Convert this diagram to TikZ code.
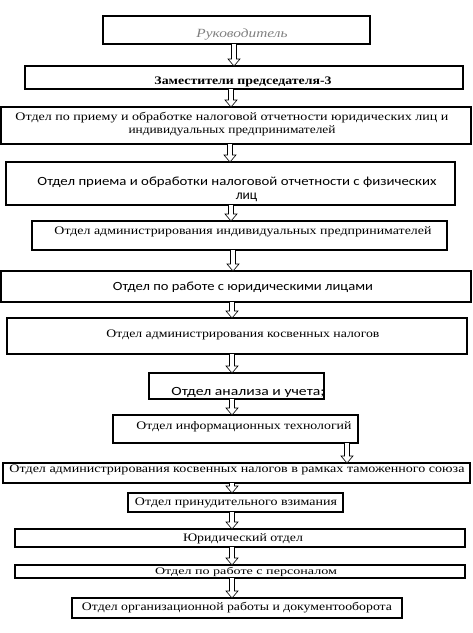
\documentclass[tikz,border=0pt]{standalone}
\usepackage{fontspec}
\setmainfont{Liberation Serif}
\newfontfamily\calib{Carlito}
\usepackage{graphicx}
\usetikzlibrary{calc}
\tikzset{
  box/.style={draw=black, line width=1.1pt, inner sep=0pt, outer sep=0pt, fill=none},
  txt/.style={inner sep=0pt, outer sep=0pt, font=\fontsize{11.5}{13}\selectfont},
  ctxt/.style={inner sep=0pt, outer sep=0pt, font=\calib\fontsize{12.5}{14}\selectfont},
  blk/.style={draw=black, line width=0.6pt, fill=white, line join=miter}
}
\newcommand\fw[2]{\resizebox{#1pt}{\height}{#2}}
\newcommand\barrow[3]{%
  \draw[blk] let \p1=(#1.south), \p2=(#2.north) in
    ({#3pt-2.5pt},\y1) -- ({#3pt-2.5pt},\y2+7pt) -- ({#3pt-6pt},\y2+7pt)
    -- (#3pt,\y2) -- ({#3pt+6pt},\y2+7pt) -- ({#3pt+2.5pt},\y2+7pt)
    -- ({#3pt+2.5pt},\y1);}
\begin{document}
\begin{tikzpicture}[x=1pt,y=-1pt]
\useasboundingbox (0,0) rectangle (473,633);
% boxes
\node[box, minimum width=267pt, minimum height=28pt] (b1) at (236.5,30) {};
\node[box, minimum width=438pt, minimum height=23pt] (b2) at (244,77.5) {};
\node[box, minimum width=470pt, minimum height=37pt] (b3) at (236,125.5) {};
\node[box, minimum width=449pt, minimum height=43pt, line width=1.5pt] (b4) at (230.5,183.5) {};
\node[box, minimum width=415pt, minimum height=29pt] (b5) at (239.5,235.5) {};
\node[box, minimum width=470pt, minimum height=31pt] (b6) at (236,286.5) {};
\node[box, minimum width=460pt, minimum height=36pt] (b7) at (237,336) {};
\node[box, minimum width=175pt, minimum height=26pt] (b8) at (236.5,386) {};
\node[box, minimum width=245pt, minimum height=28pt] (b9) at (235.5,429) {};
\node[box, minimum width=467pt, minimum height=20pt] (b10) at (236.5,473) {};
\node[box, minimum width=215pt, minimum height=19pt] (b11) at (235.5,502.5) {};
\node[box, minimum width=450pt, minimum height=18pt] (b12) at (240,538) {};
\node[box, minimum width=450pt, minimum height=13pt] (b13) at (240,571.5) {};
\node[box, minimum width=330pt, minimum height=20pt] (b14) at (237,608) {};
% texts
\node[txt, text=black!50, font=\fontsize{12.5}{14}\selectfont] (t1) at (242,35) {\fw{91}{\itshape Руководитель}};
\node[txt] (t2) at (243,82) {\fw{177}{\bfseries Заместители председателя-3}};
\node[txt] (t3a) at (232,118) {\fw{433}{Отдел по приему и обработке налоговой отчетности юридических лиц и}};
\node[txt] (t3b) at (232,131) {\fw{207}{индивидуальных предпринимателей}};
\node[ctxt] (t4a) at (237,182) {\fw{399}{Отдел приема и обработки налоговой отчетности с физических}};
\node[ctxt, font=\calib\fontsize{13.5}{15}\selectfont] (t4b) at (246.5,197.5) {лиц};
\node[txt] (t5) at (243,232) {\fw{377}{Отдел администрирования индивидуальных предпринимателей}};
\node[ctxt] (t6) at (243,287) {\fw{260}{Отдел по работе с юридическими лицами}};
\node[txt] (t7) at (243,335) {\fw{273}{Отдел администрирования косвенных налогов}};
\node[ctxt] (t8) at (248,392) {\fw{153}{Отдел анализа и учета;}};
\node[txt] (t9) at (244,427) {\fw{215}{Отдел информационных технологий}};
\node[txt] (t10) at (237,470) {\fw{455}{Отдел администрирования косвенных налогов в рамках таможенного союза}};
\node[txt] (t11) at (236,503) {\fw{202}{Отдел принудительного взимания}};
\node[txt] (t12) at (243,538.5) {\fw{120}{Юридический отдел}};
\node[txt, font=\fontsize{10}{11}\selectfont] (t13) at (246,572) {\fw{182}{Отдел по работе с персоналом}};
\node[txt] (t14) at (237,607.5) {\fw{310}{Отдел организационной работы и документооборота}};
% arrows
\barrow{b1}{b2}{234}
\barrow{b2}{b3}{231}
\barrow{b3}{b4}{230}
\barrow{b4}{b5}{231}
\barrow{b5}{b6}{233}
\barrow{b6}{b7}{232}
\barrow{b7}{b8}{232}
\barrow{b8}{b9}{232}
\barrow{b9}{b10}{347}
\barrow{b10}{b11}{232}
\barrow{b11}{b12}{232}
\barrow{b12}{b13}{232}
\barrow{b13}{b14}{232}
\end{tikzpicture}
\end{document}
